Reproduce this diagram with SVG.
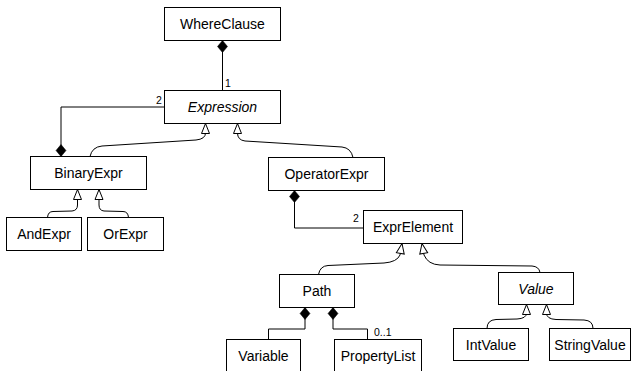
<svg xmlns="http://www.w3.org/2000/svg" width="632" height="371" viewBox="0 0 632 371">
<style>
.box{fill:#fff;stroke:#000;stroke-width:1}
.lbl{font-family:"Liberation Sans",Arial,sans-serif;font-size:14px;fill:#000;text-anchor:middle}
.it{font-style:italic}
.mult{font-family:"Liberation Sans",Arial,sans-serif;font-size:10.5px;fill:#000}
.edge{fill:none;stroke:#000;stroke-width:1}
.gen{marker-end:url(#tri)}
.comp{marker-start:url(#dia)}
</style>
<defs>
<marker id="tri" markerUnits="userSpaceOnUse" markerWidth="12" markerHeight="10" refX="10" refY="4" orient="auto" overflow="visible">
<path d="M0,0 L10,4 L0,8 Z" fill="#fff" stroke="#000" stroke-width="1"/>
</marker>
<marker id="dia" markerUnits="userSpaceOnUse" markerWidth="13" markerHeight="11" refX="0" refY="5" orient="auto" overflow="visible">
<path d="M0,5 L6,0 L12,5 L6,10 Z" fill="#000" stroke="#000" stroke-width="0.5"/>
</marker>
</defs>
<g id="connectors">
<path class="edge comp" d="M222.5,40.5 L222.5,90.5"/>
<path class="edge comp" d="M61,156.5 L61,107 L164.5,107"/>
<path class="edge gen" d="M90,156.5 Q92,147 102,146 L196,140 Q205.5,139 205.5,133 L205.5,123.5"/>
<path class="edge gen" d="M353,157.5 Q351,148 342,147 L245,141 Q237.5,140 237.5,133 L237.5,123.5"/>
<path class="edge gen" d="M47.5,217.5 Q48,211.5 53,211.5 L72,211 Q77.5,210.5 77.5,205 L77.5,189.5"/>
<path class="edge gen" d="M128.5,217.5 Q128,211.5 123,211.5 L104,211 Q99,210.5 99,205 L99,189.5"/>
<path class="edge comp" d="M294.5,190.5 L294.5,228 L363.5,228"/>
<path class="edge gen" d="M318.5,274.5 Q320,266 328,265.5 L384,263 Q397,262 400,255 L402,243.5"/>
<path class="edge gen" d="M540,272.5 Q539,266.5 532,266 L440,265 Q428,264.5 424,255 L422,243.5"/>
<path class="edge comp" d="M305,307.5 L305,329 L268.5,329 L268.5,339.5"/>
<path class="edge comp" d="M333,307.5 L333,329 L367.5,329 L367.5,339.5"/>
<path class="edge gen" d="M487,328.5 Q487,320 496,319.5 L517,319 Q526.5,318.5 526.5,313 L526.5,304.5"/>
<path class="edge gen" d="M593,328.5 Q593,320.5 584,320 L556,319.5 Q546.5,319 546.5,313 L546.5,304.5"/>
<text class="mult" x="225" y="87">1</text>
<text class="mult" x="156" y="104">2</text>
<text class="mult" x="353" y="222">2</text>
<text class="mult" x="374" y="336">0..1</text>
</g>
<g id="WhereClause"><rect class="box" x="164.5" y="7.5" width="116" height="33"/><text class="lbl" x="222.5" y="29">WhereClause</text></g>
<g id="Expression"><rect class="box" x="164.5" y="90.5" width="116" height="33"/><text class="lbl it" x="222.5" y="112">Expression</text></g>
<g id="BinaryExpr"><rect class="box" x="30.5" y="156.5" width="116" height="33"/><text class="lbl" x="88.5" y="178">BinaryExpr</text></g>
<g id="AndExpr"><rect class="box" x="6.5" y="217.5" width="75" height="33"/><text class="lbl" x="44" y="239">AndExpr</text></g>
<g id="OrExpr"><rect class="box" x="87.5" y="217.5" width="76" height="33"/><text class="lbl" x="125.5" y="239">OrExpr</text></g>
<g id="OperatorExpr"><rect class="box" x="268.5" y="157.5" width="116" height="33"/><text class="lbl" x="326.5" y="179">OperatorExpr</text></g>
<g id="ExprElement"><rect class="box" x="363.5" y="210.5" width="99" height="33"/><text class="lbl" x="413" y="232">ExprElement</text></g>
<g id="Path"><rect class="box" x="279.5" y="274.5" width="75" height="33"/><text class="lbl" x="317" y="296">Path</text></g>
<g id="Value"><rect class="box" x="498.5" y="272.5" width="75" height="32"/><text class="lbl it" x="536" y="293.5">Value</text></g>
<g id="Variable"><rect class="box" x="226.5" y="339.5" width="74" height="33"/><text class="lbl" x="263.5" y="360.5">Variable</text></g>
<g id="PropertyList"><rect class="box" x="334.5" y="339.5" width="87" height="33"/><text class="lbl" x="378" y="360.5">PropertyList</text></g>
<g id="IntValue"><rect class="box" x="453.5" y="328.5" width="75" height="32"/><text class="lbl" x="491" y="349.5">IntValue</text></g>
<g id="StringValue"><rect class="box" x="549.5" y="328.5" width="81" height="32"/><text class="lbl" x="590" y="349.5">StringValue</text></g>
</svg>
